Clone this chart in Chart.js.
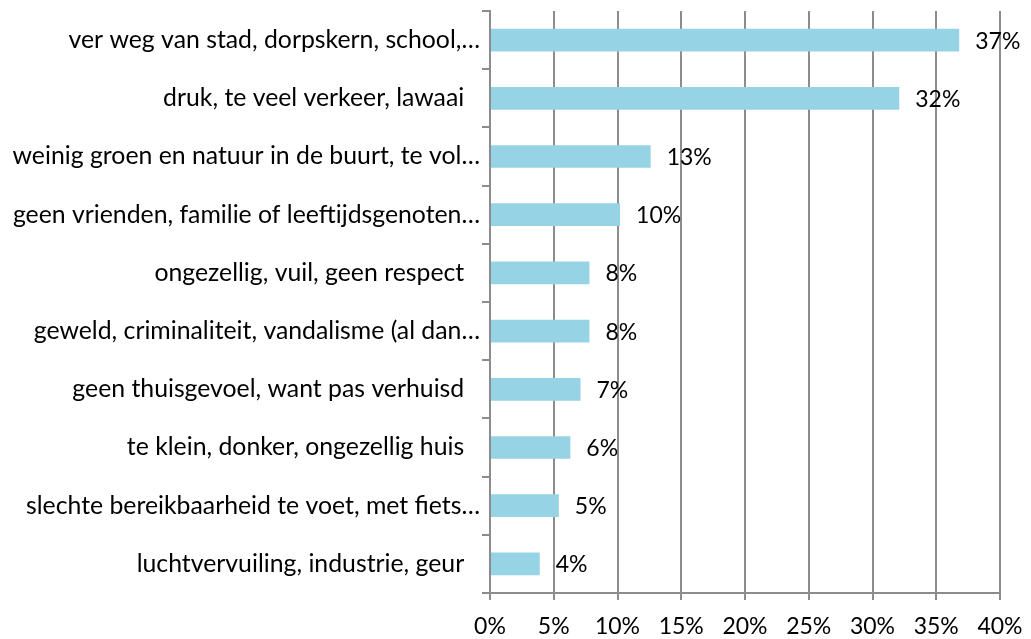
<!DOCTYPE html>
<html>
<head>
<meta charset="utf-8">
<script src="https://cdn.jsdelivr.net/npm/chart.js@4.4.1/dist/chart.umd.min.js"></script>
<style>
  html, body { margin: 0; padding: 0; background: #fff; }
  #wrap { width: 1031px; height: 639px; }
</style>
</head>
<body>
<div id="wrap"><canvas id="myChart" width="1031" height="639"></canvas></div>
<script>
// categorieën (de spaties achteraan zoals in het origineel)
const categories = [
  'ver weg van stad, dorpskern, school,…',
  'druk, te veel verkeer, lawaai  \u2009',
  'weinig groen en natuur in de buurt, te vol…',
  'geen vrienden, familie of leeftijdsgenoten…',
  'ongezellig, vuil, geen respect  \u2009',
  'geweld, criminaliteit, vandalisme (al dan…',
  'geen thuisgevoel, want pas verhuisd  \u2009',
  'te klein, donker, ongezellig huis  \u2009',
  'slechte bereikbaarheid te voet, met fiets…',
  'luchtvervuiling, industrie, geur  \u2009'
];
// percentages
const percentages = [36.8, 32.1, 12.6, 10.2, 7.8, 7.8, 7.1, 6.3, 5.4, 3.9];
const xTicks = [0, 5, 10, 15, 20, 25, 30, 35, 40];

const fontName = 'Lato';
const gridGray = '#8c8c8c';

// labels achter de balken tekenen
const barLabels = {
  id: 'barLabels',
  afterDatasetsDraw(chart) {
    const ctx = chart.ctx;
    const meta = chart.getDatasetMeta(0);
    ctx.save();
    ctx.font = '23px ' + fontName;
    ctx.fillStyle = '#000';
    ctx.textAlign = 'left';
    ctx.textBaseline = 'middle';
    meta.data.forEach(function(bar, i) {
      ctx.fillText(Math.round(percentages[i]) + '%', bar.x + 16, bar.y + 1);
    });
    ctx.restore();
  }
};

const myChart = new Chart(document.getElementById('myChart'), {
  type: 'bar',
  data: {
    labels: categories,
    datasets: [{
      data: percentages,
      backgroundColor: '#96d3e4',
      borderWidth: 0,
      categoryPercentage: 1,
      barPercentage: 0.39
    }]
  },
  options: {
    indexAxis: 'y',
    responsive: false,
    animation: false,
    layout: { padding: { top: 11, right: 31, left: 0, bottom: 0 } },
    plugins: {
      legend: { display: false },
      tooltip: { enabled: false }
    },
    scales: {
      x: {
        min: 0,
        max: 40,
        afterBuildTicks(scale) {
          scale.ticks = xTicks.map(v => ({ value: v }));
        },
        afterFit(scale) {
          scale.height = 46;
          scale.paddingLeft = 0;
          scale.paddingRight = 0;
        },
        ticks: {
          color: '#000',
          font: { family: fontName, size: 23 },
          padding: 13,
          maxRotation: 0,
          callback: v => v + '%'
        },
        grid: { color: gridGray, lineWidth: 2, tickLength: 7 },
        border: { color: gridGray, width: 2 }
      },
      y: {
        afterFit(scale) {
          scale.width = 490;
          scale.paddingTop = 0;
          scale.paddingBottom = 0;
        },
        ticks: {
          color: '#000',
          font: { family: fontName, size: 24.8 },
          padding: 2,
          autoSkip: false
        },
        grid: { drawOnChartArea: false, color: gridGray, lineWidth: 2, tickLength: 8 },
        border: { color: gridGray, width: 2 }
      }
    }
  },
  plugins: [barLabels]
});
</script>
</body>
</html>
